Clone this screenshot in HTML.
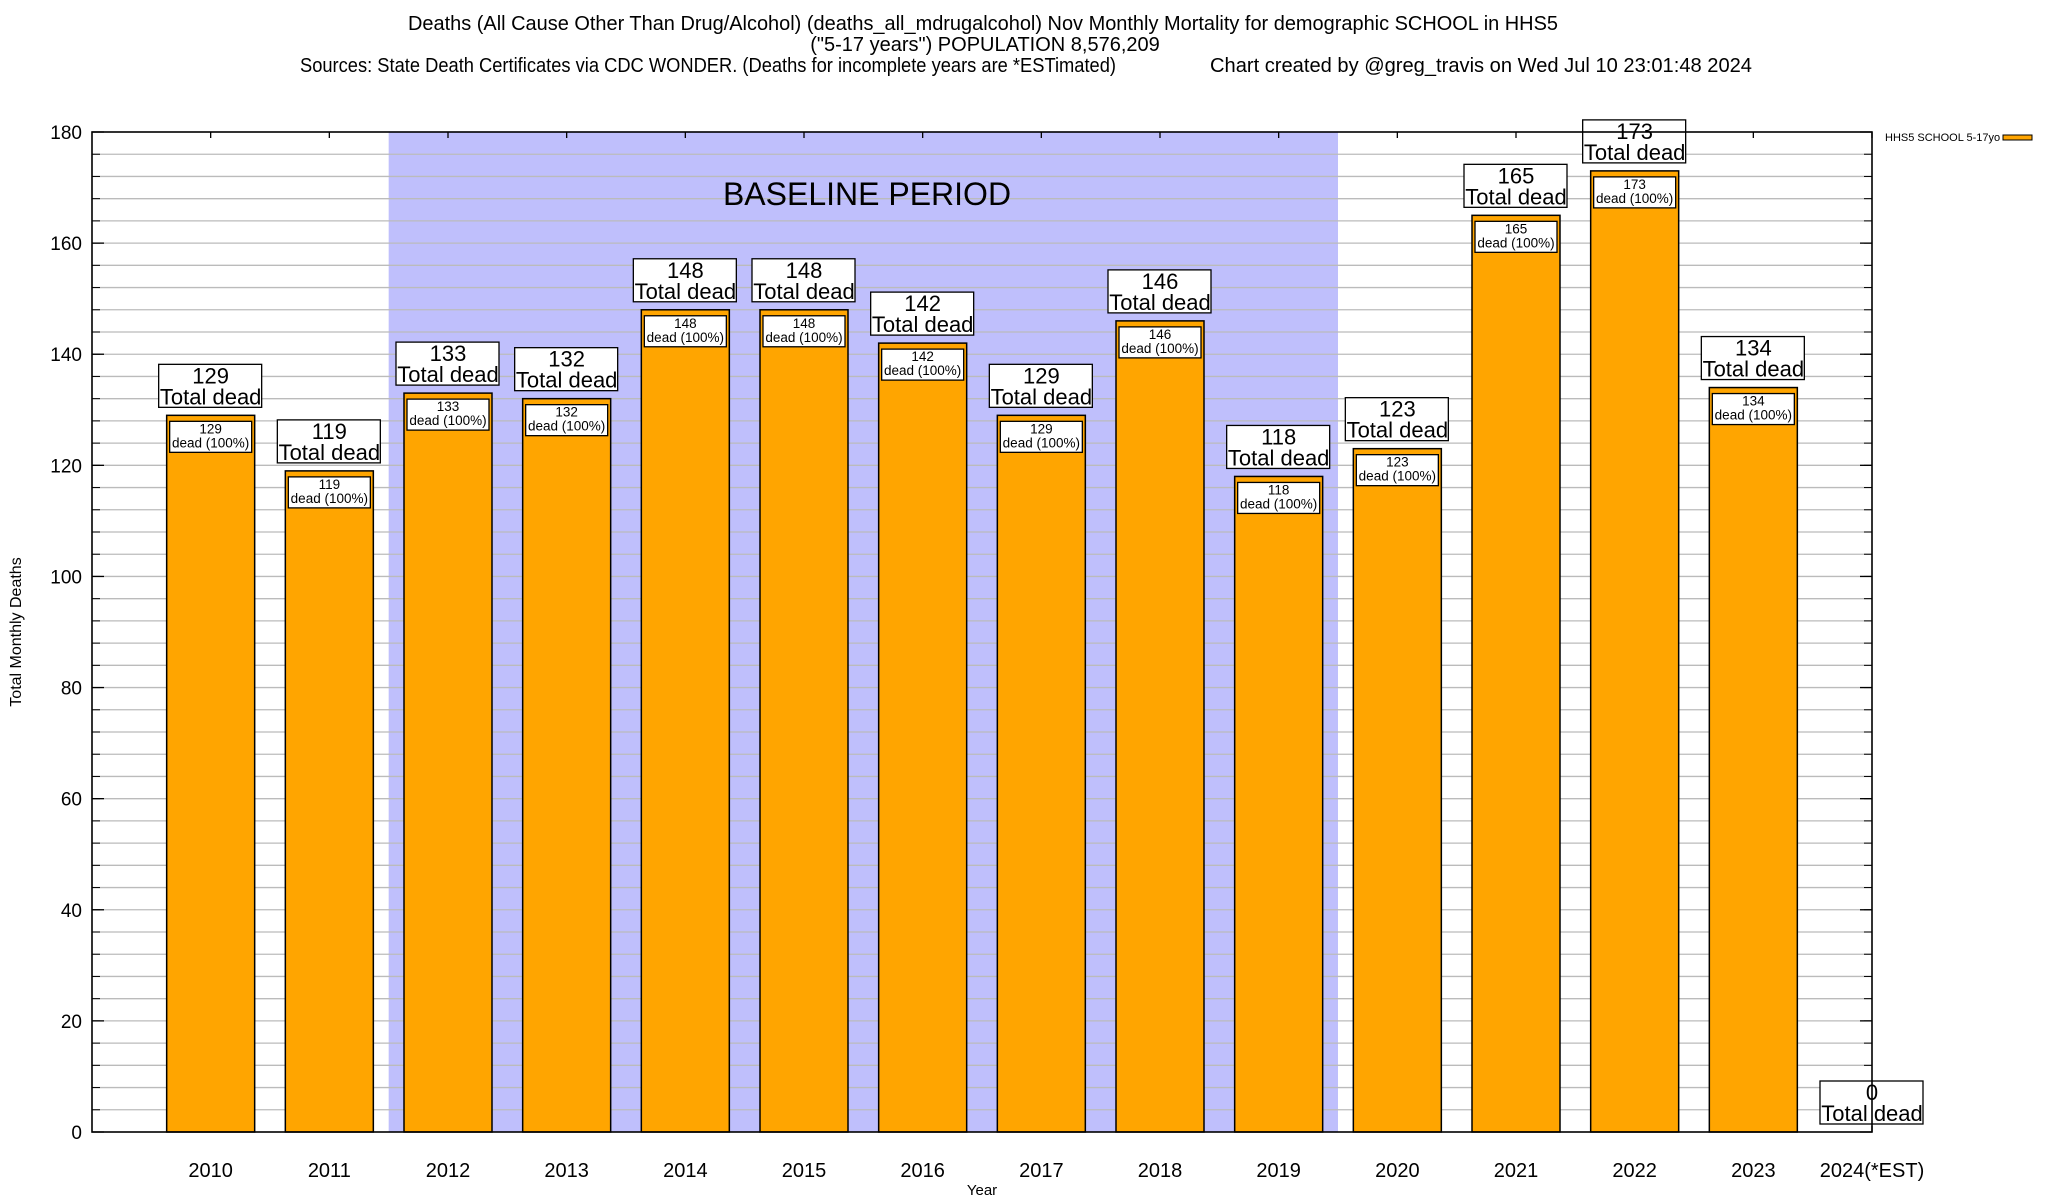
<!DOCTYPE html>
<html><head><meta charset="utf-8"><style>
html,body{margin:0;padding:0;background:#fff;}
svg{display:block;font-family:"Liberation Sans",Arial,sans-serif;}
</style></head><body>
<svg id="chart" width="2048" height="1200" viewBox="0 0 2048 1200" xmlns="http://www.w3.org/2000/svg">
<g font-size="20" text-anchor="middle" fill="#000">
<text x="983" y="30" textLength="1150" lengthAdjust="spacingAndGlyphs">Deaths (All Cause Other Than Drug/Alcohol) (deaths_all_mdrugalcohol) Nov Monthly Mortality for demographic SCHOOL in HHS5</text>
<text x="985" y="51">("5-17 years") POPULATION 8,576,209</text>
<text x="300" y="72" text-anchor="start" textLength="816" lengthAdjust="spacingAndGlyphs">Sources: State Death Certificates via CDC WONDER. (Deaths for incomplete years are *ESTimated)</text>
<text x="1210" y="72" text-anchor="start" textLength="542" lengthAdjust="spacingAndGlyphs">Chart created by @greg_travis on Wed Jul 10 23:01:48 2024</text>
</g>
<g id="plot"></g>
</svg>
<script>
const categories = ["2010","2011","2012","2013","2014","2015","2016","2017","2018","2019","2020","2021","2022","2023","2024(*EST)"];
const deaths = [129,119,133,132,148,148,142,129,146,118,123,165,173,134,0];
const yTicks = [0,20,40,60,80,100,120,140,160,180];
const baselineRange = [1.5, 9.5];

const L=92,R=1872,T=132,B=1132;
const x = i => L + (i+1)*(R-L)/15;
const y = v => B - v*(B-T)/180;
const NS="http://www.w3.org/2000/svg";
const g=document.getElementById('plot');
function el(tag,attrs,parent,txt){const e=document.createElementNS(NS,tag);for(const k in attrs)e.setAttribute(k,attrs[k]);if(txt!==undefined)e.textContent=txt;(parent||g).appendChild(e);return e;}

let sh=el('rect',{x:x(baselineRange[0]),y:T,width:x(baselineRange[1])-x(baselineRange[0]),height:B-T,fill:'#bfbffc'});


for(let v=4;v<180;v+=4){
  let ln=el('line',{x1:L,x2:R,y1:y(v),y2:y(v),stroke:'#bbb','stroke-width':1.3});
  
  
  el('line',{x1:L,x2:L+8,y1:y(v),y2:y(v),stroke:'#000','stroke-width':1});
  el('line',{x1:R-8,x2:R,y1:y(v),y2:y(v),stroke:'#000','stroke-width':1});
}
let bt=el('text',{x:867,y:205,'font-size':32,'text-anchor':'middle'},g,'BASELINE PERIOD');



yTicks.forEach(v=>{
  let t=el('text',{x:82,y:y(v)+7,'font-size':19,'text-anchor':'end'},g,String(v));
  
  
  el('line',{x1:L,x2:L+12,y1:y(v),y2:y(v),stroke:'#000','stroke-width':1.3});
  el('line',{x1:R-12,x2:R,y1:y(v),y2:y(v),stroke:'#000','stroke-width':1.3});
});

const bw=88;
categories.forEach((c,i)=>{
  const cx=x(i), v=deaths[i];
  el('line',{x1:cx,x2:cx,y1:T,y2:T+6,stroke:'#000','stroke-width':1.3});
  el('line',{x1:cx,x2:cx,y1:B,y2:B-6,stroke:'#000','stroke-width':1.3});
  if(v>0){
    let b=el('rect',{x:cx-bw/2,y:y(v),width:bw,height:B-y(v),fill:'#ffa500',stroke:'#000','stroke-width':1.5});
    
    
    let ib=el('rect',{x:cx-41,y:y(v)+6,width:82,height:31,fill:'#fff',stroke:'#000','stroke-width':1.3});
    
    
    el('text',{x:cx,y:y(v)+18,'font-size':13.5,'text-anchor':'middle'},g,String(v));
    el('text',{x:cx,y:y(v)+32,'font-size':13.5,'text-anchor':'middle'},g,'dead (100%)');
  }
  const top = y(v)-51;
  let ob=el('rect',{x:cx-52,y:top,width:103,height:43,fill:'#fff',stroke:'#000','stroke-width':1.3});
  
  
  el('text',{x:cx,y:top+19,'font-size':22,'text-anchor':'middle'},g,String(v));
  el('text',{x:cx,y:top+40,'font-size':22,'text-anchor':'middle'},g,'Total dead');
  let xl=el('text',{x:cx,y:1177,'font-size':20,'text-anchor':'middle'},g,c);
  
  
});
let fr=el('rect',{x:L,y:T,width:R-L,height:B-T,fill:'none',stroke:'#000','stroke-width':1.6});


let yl=el('text',{x:0,y:0,'font-size':16,'text-anchor':'middle',transform:'translate(21,632) rotate(-90)'},g,'Total Monthly Deaths');


let xt=el('text',{x:982,y:1195,'font-size':15,'text-anchor':'middle'},g,'Year');


let lt=el('text',{x:1885,y:141,'font-size':11},g,'HHS5 SCHOOL 5-17yo');


let ls=el('rect',{x:2003,y:135,width:29,height:5,fill:'#ffa500',stroke:'#000','stroke-width':1});


</script>
</body></html>
